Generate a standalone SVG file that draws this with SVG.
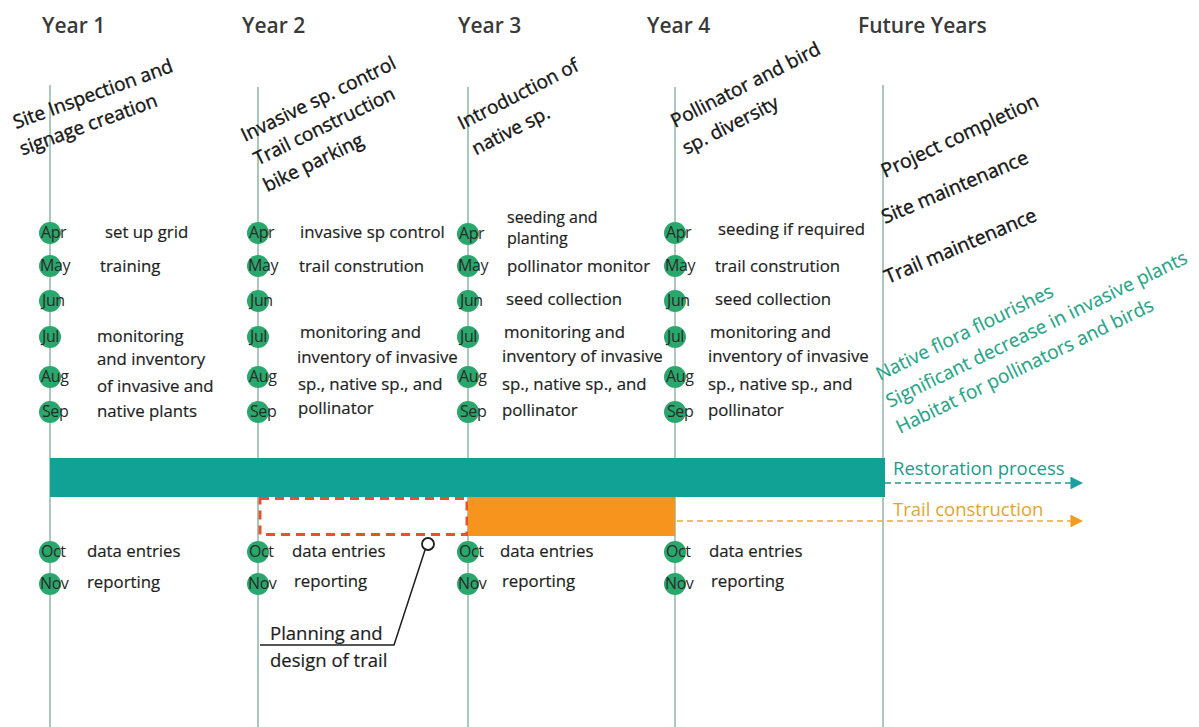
<svg xmlns="http://www.w3.org/2000/svg" width="1199" height="727" viewBox="0 0 1199 727">
  <defs>
    <style>
      text { font-family: "Open Sans", "Noto Sans", "Liberation Sans", sans-serif; fill: #262626; }
      .year { font-size: 21px; font-weight: 600; fill: #3a3a3a; }
      .goal { font-size: 19px; fill: #161616; stroke: #161616; stroke-width: 0.4px; }
      .goal-r { font-size: 19.5px; fill: #161616; stroke: #161616; stroke-width: 0.4px; }
      .outcome { font-size: 19px; fill: #27a488; stroke: #27a488; stroke-width: 0.15px; }
      .act { font-size: 16.8px; fill: #1e1e1e; stroke: #1e1e1e; stroke-width: 0.2px; }
      .act-t { font-size: 16px; fill: #1e1e1e; stroke: #1e1e1e; stroke-width: 0.2px; }
      .mon { font-size: 16px; fill: #2a2a2a; letter-spacing: -0.4px; }
      .dot { fill: #2aa76c; }
      .axis { stroke: #a9c9bd; stroke-width: 2; fill: none; }
      .note { font-size: 18.5px; fill: #1e1e1e; stroke: #1e1e1e; stroke-width: 0.2px; }
      .bar-label { font-size: 18.5px; }
    </style>
    <marker id="tipTeal" viewBox="0 0 10 10" refX="2" refY="5" markerWidth="8" markerHeight="8" orient="auto" markerUnits="strokeWidth">
      <path d="M0,0 L10,5 L0,10 Z" fill="#1aa0a0"/>
    </marker>
    <marker id="tipOrange" viewBox="0 0 10 10" refX="2" refY="5" markerWidth="8" markerHeight="8" orient="auto" markerUnits="strokeWidth">
      <path d="M0,0 L10,5 L0,10 Z" fill="#f39c1f"/>
    </marker>
  </defs>

  <rect width="1199" height="727" fill="#ffffff"/>

  <!-- year axes -->
  <g id="axes">
    <line class="axis" x1="50" y1="85" x2="50" y2="727"/>
    <line class="axis" x1="258" y1="87" x2="258" y2="727"/>
    <line class="axis" x1="468" y1="87" x2="468" y2="727"/>
    <line class="axis" x1="675" y1="87" x2="675" y2="727"/>
    <line class="axis" x1="883" y1="85" x2="883" y2="727"/>
  </g>

  <!-- year headings -->
  <g id="headings">
    <text class="year" x="42" y="33">Year 1</text>
    <text class="year" x="242" y="33">Year 2</text>
    <text class="year" x="458" y="33">Year 3</text>
    <text class="year" x="647" y="33">Year 4</text>
    <text class="year" x="858" y="33">Future Years</text>
  </g>

  <!-- yearly goals -->
  <g id="goal-year1">
    <text class="goal" transform="translate(16,129) rotate(-20)"><tspan x="0" y="0">Site Inspection and</tspan><tspan x="-3" y="27">signage creation</tspan></text>
  </g>
  <g id="goal-year2">
    <text class="goal" transform="translate(245,142) rotate(-26)"><tspan x="0" y="0">Invasive sp. control</tspan><tspan x="1" y="27">Trail construction</tspan><tspan x="-2" y="55">bike parking</tspan></text>
  </g>
  <g id="goal-year3">
    <text class="goal" transform="translate(462,130) rotate(-27)"><tspan x="0" y="0">Introduction of</tspan><tspan x="1" y="29">native sp.</tspan></text>
  </g>
  <g id="goal-year4">
    <text class="goal" transform="translate(675,128) rotate(-27)"><tspan x="0" y="0">Pollinator and bird</tspan><tspan x="-2" y="29">sp. diversity</tspan></text>
  </g>
  <g id="goal-future">
    <text class="goal-r" transform="translate(885,178) rotate(-25)">Project completion</text>
    <text class="goal-r" transform="translate(885,224) rotate(-23)">Site maintenance</text>
    <text class="goal-r" transform="translate(888,284) rotate(-23)">Trail maintenance</text>
  </g>
  <g id="outcomes">
    <text class="outcome" transform="translate(880,381) rotate(-26)">Native flora flourishes</text>
    <text class="outcome" transform="translate(890,408) rotate(-26)">Significant decrease in invasive plants</text>
    <text class="outcome" transform="translate(900,434) rotate(-26)">Habitat for pollinators and birds</text>
  </g>

  <!-- month markers -->
  <g id="months-year1">
    <circle class="dot" cx="50" cy="233" r="11"/><text class="mon" x="41" y="238">Apr</text>
    <circle class="dot" cx="50" cy="266" r="11"/><text class="mon" x="40" y="271">May</text>
    <circle class="dot" cx="50" cy="301" r="11"/><text class="mon" x="42" y="306">Jun</text>
    <circle class="dot" cx="50" cy="337" r="11"/><text class="mon" x="42" y="342">Jul</text>
    <circle class="dot" cx="50" cy="377" r="11"/><text class="mon" x="41" y="382">Aug</text>
    <circle class="dot" cx="50" cy="412" r="11"/><text class="mon" x="42" y="417">Sep</text>
    <circle class="dot" cx="50" cy="552" r="11"/><text class="mon" x="41" y="557">Oct</text>
    <circle class="dot" cx="50" cy="584" r="11"/><text class="mon" x="40" y="589">Nov</text>
  </g>
  <g id="months-year2">
    <circle class="dot" cx="258" cy="233" r="11"/><text class="mon" x="249" y="238">Apr</text>
    <circle class="dot" cx="258" cy="266" r="11"/><text class="mon" x="248" y="271">May</text>
    <circle class="dot" cx="258" cy="301" r="11"/><text class="mon" x="250" y="306">Jun</text>
    <circle class="dot" cx="258" cy="337" r="11"/><text class="mon" x="250" y="342">Jul</text>
    <circle class="dot" cx="258" cy="377" r="11"/><text class="mon" x="249" y="382">Aug</text>
    <circle class="dot" cx="258" cy="412" r="11"/><text class="mon" x="250" y="417">Sep</text>
    <circle class="dot" cx="258" cy="552" r="11"/><text class="mon" x="249" y="557">Oct</text>
    <circle class="dot" cx="258" cy="584" r="11"/><text class="mon" x="248" y="589">Nov</text>
  </g>
  <g id="months-year3">
    <circle class="dot" cx="468" cy="234" r="11"/><text class="mon" x="459" y="239">Apr</text>
    <circle class="dot" cx="468" cy="266" r="11"/><text class="mon" x="458" y="271">May</text>
    <circle class="dot" cx="468" cy="301" r="11"/><text class="mon" x="460" y="306">Jun</text>
    <circle class="dot" cx="468" cy="337" r="11"/><text class="mon" x="460" y="342">Jul</text>
    <circle class="dot" cx="468" cy="377" r="11"/><text class="mon" x="459" y="382">Aug</text>
    <circle class="dot" cx="468" cy="412" r="11"/><text class="mon" x="460" y="417">Sep</text>
    <circle class="dot" cx="468" cy="552" r="11"/><text class="mon" x="459" y="557">Oct</text>
    <circle class="dot" cx="468" cy="584" r="11"/><text class="mon" x="458" y="589">Nov</text>
  </g>
  <g id="months-year4">
    <circle class="dot" cx="675" cy="233" r="11"/><text class="mon" x="666" y="238">Apr</text>
    <circle class="dot" cx="675" cy="266" r="11"/><text class="mon" x="665" y="271">May</text>
    <circle class="dot" cx="675" cy="301" r="11"/><text class="mon" x="667" y="306">Jun</text>
    <circle class="dot" cx="675" cy="337" r="11"/><text class="mon" x="667" y="342">Jul</text>
    <circle class="dot" cx="675" cy="377" r="11"/><text class="mon" x="666" y="382">Aug</text>
    <circle class="dot" cx="675" cy="412" r="11"/><text class="mon" x="667" y="417">Sep</text>
    <circle class="dot" cx="675" cy="552" r="11"/><text class="mon" x="666" y="557">Oct</text>
    <circle class="dot" cx="675" cy="584" r="11"/><text class="mon" x="665" y="589">Nov</text>
  </g>

  <!-- activities -->
  <g id="tasks-year1">
    <text class="act" x="105" y="238">set up grid</text>
    <text class="act" x="100" y="272">training</text>
    <text class="act" x="97" y="342">monitoring</text>
    <text class="act" x="97" y="365">and inventory</text>
    <text class="act" x="97" y="392">of invasive and</text>
    <text class="act" x="97" y="417">native plants</text>
    <text class="act" x="87" y="557">data entries</text>
    <text class="act" x="87" y="588">reporting</text>
  </g>
  <g id="tasks-year2">
    <text class="act" x="300" y="238">invasive sp control</text>
    <text class="act" x="299" y="272">trail constrution</text>
    <text class="act" x="300" y="338">monitoring and</text>
    <text class="act" x="297" y="363">inventory of invasive</text>
    <text class="act" x="298" y="390">sp., native sp., and</text>
    <text class="act" x="298" y="414">pollinator</text>
    <text class="act" x="292" y="557">data entries</text>
    <text class="act" x="294" y="587">reporting</text>
  </g>
  <g id="tasks-year3">
    <text class="act-t" x="507" y="223">seeding and</text>
    <text class="act-t" x="507" y="244">planting</text>
    <text class="act" x="507" y="272">pollinator monitor</text>
    <text class="act" x="506" y="305">seed collection</text>
    <text class="act" x="504" y="338">monitoring and</text>
    <text class="act" x="502" y="362">inventory of invasive</text>
    <text class="act" x="502" y="390">sp., native sp., and</text>
    <text class="act" x="502" y="416">pollinator</text>
    <text class="act" x="500" y="557">data entries</text>
    <text class="act" x="502" y="587">reporting</text>
  </g>
  <g id="tasks-year4">
    <text class="act" x="718" y="235">seeding if required</text>
    <text class="act" x="715" y="272">trail constrution</text>
    <text class="act" x="715" y="305">seed collection</text>
    <text class="act" x="710" y="338">monitoring and</text>
    <text class="act" x="708" y="362">inventory of invasive</text>
    <text class="act" x="708" y="390">sp., native sp., and</text>
    <text class="act" x="708" y="416">pollinator</text>
    <text class="act" x="709" y="557">data entries</text>
    <text class="act" x="711" y="587">reporting</text>
  </g>

  <!-- process bars -->
  <g id="bar-restoration">
    <rect x="50" y="458" width="835" height="39" fill="#11a295"/>
    <text class="bar-label" x="893" y="475" style="fill:#1c9c8c">Restoration process</text>
  </g>
  <g id="bar-trail">
    <rect x="260" y="498.5" width="207" height="36" fill="none" stroke="#e8512b" stroke-width="3" stroke-dasharray="9 6"/>
    <rect x="468" y="497" width="207" height="39" fill="#f7941d"/>
    <text class="bar-label" x="893" y="516" style="fill:#e2a62c">Trail construction</text>
  </g>

  <!-- connectors -->
  <g id="connectors">
    <line x1="885" y1="483" x2="1073" y2="483" stroke="#2f8e9c" stroke-width="1.6" stroke-dasharray="6 4" marker-end="url(#tipTeal)"/>
    <line x1="677" y1="521" x2="1073" y2="521" stroke="#e7ac2e" stroke-width="1.6" stroke-dasharray="6 4" marker-end="url(#tipOrange)"/>
    <polyline points="425,550 394,645 260,645" fill="none" stroke="#1e1e1e" stroke-width="1.5"/>
    <circle cx="428" cy="544" r="6" fill="#ffffff" stroke="#1e1e1e" stroke-width="1.8"/>
  </g>

  <g id="callout-planning">
    <text class="note" x="270" y="640">Planning and</text>
    <text class="note" x="270" y="667">design of trail</text>
  </g>
</svg>
